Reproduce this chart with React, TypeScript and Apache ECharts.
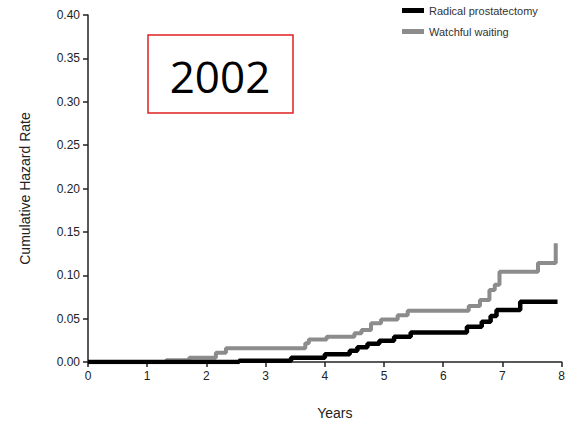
import React, { useEffect, useRef } from "react";
import * as echarts from "echarts";

// Step points: [years, cumulative hazard] — value after each event
const radicalProstatectomy: [number, number][] = [
  [0, 0], [2.55, 0.0015], [3.43, 0.005], [4.0, 0.009], [4.42, 0.013],
  [4.55, 0.017], [4.72, 0.021], [4.92, 0.0246], [5.17, 0.029], [5.45, 0.034],
  [6.4, 0.0407], [6.65, 0.0465], [6.8, 0.053], [6.9, 0.06], [7.3, 0.0695],
  [7.93, 0.0695],
];

const watchfulWaiting: [number, number][] = [
  [0, 0], [1.32, 0.002], [1.71, 0.005], [2.16, 0.0107], [2.33, 0.0158],
  [3.67, 0.0215], [3.73, 0.026], [4.03, 0.029], [4.5, 0.033], [4.62, 0.037],
  [4.78, 0.0446], [4.95, 0.049], [5.23, 0.054], [5.4, 0.059], [6.43, 0.0646],
  [6.62, 0.0715], [6.78, 0.083], [6.87, 0.089], [6.95, 0.104], [7.6, 0.114],
  [7.9, 0.137],
];

const seriesNames = ["Radical prostatectomy", "Watchful waiting"];
const seriesColors = ["#000000", "#8c8c8c"];
const yearLabel = "Years";
const hazardLabel = "Cumulative Hazard Rate";
const yearStamp = "2002";

const narrow = "'Liberation Sans Narrow', 'Liberation Sans', Arial, sans-serif";

export default function App() {
  const ref = useRef<HTMLDivElement>(null);

  useEffect(() => {
    if (!ref.current) return;
    const chart = echarts.init(ref.current, undefined, { renderer: "svg" });
    chart.setOption({
      animation: false,
      backgroundColor: "#ffffff",
      grid: { left: 88, right: 2, top: 15, bottom: 66 },
      legend: {
        orient: "vertical",
        left: 402,
        top: 5,
        padding: 0,
        itemWidth: 22,
        itemHeight: 5,
        itemGap: 10,
        icon: "rect",
        textStyle: { fontFamily: narrow, fontSize: 11, color: "#333" },
        data: seriesNames,
      },
      xAxis: {
        type: "value",
        min: 0,
        max: 8,
        interval: 1,
        name: yearLabel,
        nameLocation: "middle",
        nameGap: 44,
        nameTextStyle: { fontFamily: narrow, fontSize: 14, color: "#222", padding: [0, 0, 0, 20] },
        axisLine: { lineStyle: { color: "#222", width: 1.5 } },
        axisTick: { show: true, length: 5, lineStyle: { color: "#222", width: 1.5 } },
        axisLabel: { fontFamily: narrow, fontSize: 12, color: "#222", margin: 8 },
        splitLine: { show: false },
      },
      yAxis: {
        type: "value",
        min: 0,
        max: 0.4,
        interval: 0.05,
        name: hazardLabel,
        nameLocation: "middle",
        nameGap: 56,
        nameTextStyle: { fontFamily: narrow, fontSize: 14, color: "#222" },
        axisLine: { show: true, lineStyle: { color: "#222", width: 1.5 } },
        axisTick: { show: true, length: 5, lineStyle: { color: "#222", width: 1.5 } },
        axisLabel: {
          fontFamily: narrow,
          fontSize: 12,
          color: "#222",
          margin: 8,
          formatter: (v: number) => v.toFixed(2),
        },
        splitLine: { show: false },
      },
      series: [
        {
          name: seriesNames[0],
          type: "line",
          step: "end",
          showSymbol: false,
          symbol: "none",
          data: radicalProstatectomy,
          lineStyle: { color: seriesColors[0], width: 4.5 },
          itemStyle: { color: seriesColors[0] },
          z: 3,
        },
        {
          name: seriesNames[1],
          type: "line",
          step: "end",
          showSymbol: false,
          symbol: "none",
          data: watchfulWaiting,
          lineStyle: { color: seriesColors[1], width: 4 },
          itemStyle: { color: seriesColors[1] },
          z: 2,
        },
      ],
      graphic: [
        {
          type: "rect",
          shape: { x: 148, y: 35, width: 145, height: 78 },
          style: { fill: "#ffffff", stroke: "#e02020", lineWidth: 1.5 },
        },
        {
          type: "text",
          x: 220,
          y: 76,
          style: {
            text: yearStamp,
            fontFamily: "'Open Sans', 'Noto Sans', sans-serif",
            fontSize: 44,
            fill: "#000",
            align: "center",
            verticalAlign: "middle",
          },
        },
      ],
    });
    return () => chart.dispose();
  }, []);

  return (
    <div
      ref={ref}
      style={{ position: "absolute", left: 0, top: 0, width: 568, height: 428 }}
    />
  );
}
